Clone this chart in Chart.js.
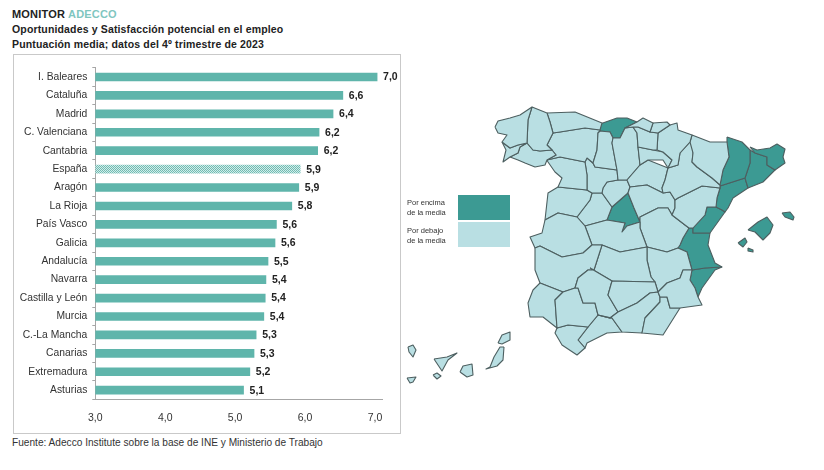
<!DOCTYPE html>
<html lang="es"><head><meta charset="utf-8">
<script src="https://cdn.jsdelivr.net/npm/chart.js@4/dist/chart.umd.min.js"></script>
<style>
html,body{margin:0;padding:0;background:#fff;width:824px;height:470px;overflow:hidden;font-family:"Liberation Sans",Arial,sans-serif}
.t{position:absolute;white-space:nowrap;color:#222}
.h{font-weight:bold;font-size:10.5px;letter-spacing:.15px;left:12px}
#frame{position:absolute;left:13px;top:54px;width:386px;height:378px;border:1px solid #c9c9c9}
#bars{position:absolute;left:14px;top:55px}
#map{position:absolute;left:400px;top:90px}
.sw{position:absolute;left:458px;width:52px;height:25px}
.lg{position:absolute;left:407px;font-size:7.5px;line-height:9.5px;color:#333;white-space:nowrap}
</style></head><body>
<div class="t" style="left:12px;top:8px;font-size:11px;font-weight:bold;letter-spacing:.2px">MONITOR <span style="color:#7fc6bf">ADECCO</span></div>
<div class="t h" style="top:23px">Oportunidades y Satisfacción potencial en el empleo</div>
<div class="t h" style="top:37.5px">Puntuación media; datos del 4º trimestre de 2023</div>
<div id="frame"></div>
<canvas id="bars" width="386" height="378"></canvas>
<canvas id="map" width="424" height="310"></canvas>
<div class="sw" style="top:195px;background:#3c9a93"></div>
<div class="sw" style="top:222px;background:#b9dfe3"></div>
<div class="lg" style="top:198px">Por encima<br>de la media</div>
<div class="lg" style="top:226px">Por debajo<br>de la media</div>
<div class="t" style="left:12px;top:437px;font-size:10.15px;color:#333">Fuente: Adecco Institute sobre la base de INE y Ministerio de Trabajo</div>
<script>
const regions=["I. Baleares","Cataluña","Madrid","C. Valenciana","Cantabria","España","Aragón","La Rioja","País Vasco","Galicia","Andalucía","Navarra","Castilla y León","Murcia","C.-La Mancha","Canarias","Extremadura","Asturias"];
const scores=[7.03,6.54,6.40,6.20,6.18,5.93,5.91,5.81,5.59,5.57,5.47,5.44,5.43,5.41,5.30,5.27,5.21,5.12];
const scoreLabels=["7,0","6,6","6,4","6,2","6,2","5,9","5,9","5,8","5,6","5,6","5,5","5,4","5,4","5,4","5,3","5,3","5,2","5,1"];
const xTicks=["3,0","4,0","5,0","6,0","7,0"];

// Province and island outlines
const aCoruna=[[495,127],[498,121],[510,118],[520,115],[532,107],[528,120],[527,143],[518,145],[510,148],[502,142],[507,135],[498,133]];
const lugo=[[532,107],[547,113],[550,122],[553,133],[547,145],[552,150],[540,151],[533,150],[527,143],[528,120]];
const pontevedra=[[502,142],[510,148],[518,145],[527,143],[520,147],[518,153],[510,157],[503,162],[506,150]];
const ourense=[[527,143],[533,150],[540,151],[552,150],[556,155],[547,160],[545,165],[535,167],[525,163],[518,160],[510,157],[518,153],[520,147]];
const asturias=[[547,113],[575,112],[602,123],[600,130],[585,128],[560,132],[553,133],[550,122]];
const cantabria=[[600,124],[617,118],[627,118],[637,122],[625,128],[620,138],[613,138],[610,132],[600,131]];
const leon=[[553,133],[560,132],[585,128],[600,130],[600,131],[598,133],[597,150],[593,163],[587,158],[585,162],[560,157],[547,160],[556,155],[552,150],[547,145]];
const palencia=[[600,131],[610,132],[613,138],[612,143],[617,170],[595,167],[593,163],[597,150],[598,133]];
const burgos=[[613,138],[620,138],[625,128],[633,127],[637,133],[638,147],[640,165],[627,180],[618,180],[617,170],[612,143]];
const zamora=[[547,160],[560,157],[585,162],[587,175],[587,190],[558,187],[562,178],[555,172],[548,162]];
const valladolid=[[585,162],[587,158],[593,163],[595,167],[617,170],[618,180],[607,182],[603,188],[602,193],[592,193],[587,190],[587,175]];
const segovia=[[603,188],[607,182],[618,180],[627,180],[630,187],[628,193],[612,207],[602,193]];
const salamanca=[[558,187],[587,190],[592,193],[590,200],[577,217],[558,213],[545,220],[548,193]];
const avila=[[592,193],[602,193],[612,207],[607,220],[585,226],[577,217],[590,200]];
const madrid=[[628,193],[634,208],[640,222],[627,226],[622,232],[625,223],[607,220],[612,207]];
const toledo=[[585,226],[607,220],[625,223],[622,232],[627,226],[640,222],[640,228],[647,247],[620,252],[602,245],[592,245]];
const caceres=[[545,220],[558,213],[577,217],[585,226],[592,245],[583,253],[562,257],[540,246],[535,248],[530,237],[542,233]];
const badajoz=[[540,246],[562,257],[583,253],[592,245],[602,245],[594,270],[588,270],[578,278],[575,288],[563,292],[540,283],[535,270],[535,248]];
const ciudadReal=[[602,245],[620,252],[647,247],[647,260],[651,277],[655,282],[612,281],[590,268],[594,270]];
const albacete=[[647,247],[667,252],[678,248],[687,252],[692,270],[683,270],[680,278],[667,283],[658,292],[655,282],[651,277],[647,260]];
const cuenca=[[640,222],[640,217],[658,208],[668,208],[672,215],[685,225],[689,228],[683,238],[680,245],[678,248],[667,252],[647,247],[640,228]];
const guadalajara=[[630,187],[647,185],[663,193],[670,192],[675,200],[675,208],[672,215],[668,208],[658,208],[640,217],[640,222],[634,208],[628,193]];
const soria=[[627,180],[640,165],[648,160],[668,168],[665,180],[662,188],[663,193],[647,185],[630,187]];
const rioja=[[638,147],[653,150],[663,152],[672,160],[668,168],[663,160],[648,160],[640,165]];
const vizcaya=[[637,122],[643,118],[653,123],[650,132],[638,127],[633,127],[625,128]];
const gipuzkoa=[[653,123],[667,122],[670,125],[658,133],[650,132]];
const alava=[[633,127],[638,127],[650,132],[658,133],[657,150],[653,150],[638,147],[637,133]];
const navarra=[[670,125],[677,123],[678,130],[692,135],[690,142],[680,153],[678,165],[668,168],[672,160],[663,152],[657,150],[658,133]];
const huesca=[[692,135],[710,142],[727,142],[729,157],[723,170],[720,185],[712,178],[697,167],[692,162],[693,153],[690,142]];
const zaragoza=[[692,135],[693,153],[692,162],[697,167],[712,178],[720,185],[720,188],[702,186],[678,198],[675,200],[670,192],[663,193],[662,188],[665,180],[668,168],[678,165],[680,153],[690,142]];
const teruel=[[675,200],[678,198],[702,186],[720,188],[717,198],[716,207],[707,207],[705,215],[693,228],[689,228],[685,225],[672,215],[675,208]];
const lleida=[[727,137],[742,142],[750,150],[750,163],[745,178],[720,186],[720,185],[723,170],[729,157],[727,142]];
const girona=[[750,147],[757,150],[770,148],[777,144],[785,149],[783,157],[785,163],[775,170],[767,165],[767,157],[755,153]];
const barcelona=[[755,153],[767,157],[767,165],[775,170],[763,182],[748,188],[745,178],[750,163],[750,150]];
const tarragona=[[745,178],[748,188],[733,198],[728,208],[725,212],[722,210],[716,207],[717,198],[720,188],[720,186]];
const castellon=[[707,207],[716,207],[722,210],[725,212],[710,233],[693,233],[693,228],[705,215]];
const valencia=[[693,233],[710,233],[708,245],[715,263],[722,267],[705,268],[692,270],[687,252],[678,248],[680,245],[683,238],[689,228],[693,228]];
const alicante=[[722,267],[715,270],[702,288],[698,297],[695,288],[690,280],[692,270],[705,268]];
const murcia=[[692,270],[690,280],[695,288],[698,297],[702,305],[680,308],[670,308],[667,297],[660,297],[658,292],[667,283],[680,278],[683,270]];
const almeria=[[660,297],[667,297],[670,308],[680,308],[663,335],[642,333],[645,318],[660,302]];
const granada=[[598,315],[610,318],[618,312],[637,303],[650,293],[658,292],[660,297],[660,302],[645,318],[642,333],[622,332],[612,318]];
const jaen=[[612,281],[655,282],[658,292],[650,293],[637,303],[618,312],[608,295]];
const cordoba=[[590,268],[612,281],[608,295],[618,312],[610,318],[598,315],[595,303],[583,303],[578,288],[575,288],[578,278],[588,270],[594,270]];
const sevilla=[[575,288],[578,288],[583,303],[595,303],[598,315],[588,327],[568,325],[557,328],[555,300],[563,292]];
const huelva=[[540,283],[563,292],[555,300],[557,328],[543,317],[530,317],[528,303],[533,290]];
const cadiz=[[557,328],[568,325],[588,327],[578,340],[585,348],[577,355],[562,345],[555,333]];
const malaga=[[588,327],[598,315],[610,318],[612,318],[622,332],[607,333],[587,343],[585,348],[578,340]];
const mallorca=[[748,230],[758,222],[767,217],[773,225],[770,233],[763,240],[755,232]];
const menorca=[[782,213],[790,212],[794,217],[793,220],[785,217]];
const ibiza=[[738,243],[745,238],[747,242],[743,247]];
const formentera=[[748,248],[753,250],[753,252],[748,251]];
const lanzarote=[[498,343],[502,335],[510,332],[510,340],[502,344]];
const fuerteventura=[[504,347],[503,360],[497,366],[486,369],[490,367],[494,357],[500,347]];
const granCanaria=[[460,372],[463,366],[472,364],[473,375],[467,377]];
const tenerife=[[434,359],[447,357],[457,353],[448,360],[442,371]];
const gomera=[[433,375],[437,373],[441,376],[437,379]];
const laPalma=[[408,347],[413,345],[416,350],[413,357],[409,352]];
const hierro=[[407,378],[416,377],[413,382],[410,383]];

const belowAverage=[aCoruna,lugo,pontevedra,ourense,asturias,vizcaya,gipuzkoa,alava,navarra,rioja,huesca,zaragoza,teruel,murcia,almeria,granada,jaen,cordoba,sevilla,huelva,cadiz,malaga,badajoz,caceres,ciudadReal,albacete,toledo,cuenca,guadalajara,soria,burgos,palencia,leon,zamora,valladolid,segovia,salamanca,avila,lanzarote,fuerteventura,granCanaria,tenerife,gomera,laPalma,hierro];
const aboveAverage=[cantabria,lleida,girona,barcelona,tarragona,castellon,valencia,alicante,madrid,mallorca,menorca,ibiza,formentera];

const BAR="#5fb5ab",DARK="#3c9a93",LIGHT="#b9dfe3",EDGE="#4d5f60",AXIS="#a6a6a6",TXT="#333";

function hatch(){
  const c=document.createElement("canvas");c.width=c.height=2;
  const g=c.getContext("2d");g.fillStyle="#d3ece9";g.fillRect(0,0,2,2);
  g.fillStyle="#6fbcb3";g.fillRect(0,1,1,1);g.fillRect(1,0,1,1);
  return g.createPattern(c,"repeat");
}
const endLabels={id:"endLabels",afterDatasetsDraw(ch){
  const c=ch.ctx,m=ch.getDatasetMeta(0);
  c.save();c.font='bold 10.5px "Liberation Sans",Arial,sans-serif';c.fillStyle="#222";c.textBaseline="middle";c.textAlign="left";
  m.data.forEach((b,i)=>c.fillText(scoreLabels[i],b.x+6,b.y+0.5));
  c.restore();
}};
new Chart(document.getElementById("bars"),{
  type:"bar",
  data:{labels:regions,datasets:[{data:scores,barThickness:8,borderWidth:0,
    backgroundColor:regions.map(r=>r==="España"?hatch():BAR)}]},
  options:{indexAxis:"y",responsive:false,animation:false,
    layout:{padding:{left:0,right:18,top:12.8,bottom:0}},
    plugins:{legend:{display:false},tooltip:{enabled:false}},
    scales:{
      x:{min:3,max:7.1,grid:{display:false,drawTicks:true},border:{color:AXIS},
        afterFit(s){s.height=33.6},
        ticks:{stepSize:1,includeBounds:false,maxRotation:0,color:TXT,padding:4,font:{size:10.5,family:'"Liberation Sans"'},
          callback:v=>xTicks[Math.round(v)-3]}},
      y:{grid:{display:true,drawOnChartArea:false,tickLength:3,color:AXIS},border:{color:AXIS},
        afterFit(s){s.width=81.3},
        ticks:{color:TXT,padding:5,autoSkip:false,font:{size:10.3,family:'"Liberation Sans"'}}}
    }},
  plugins:[endLabels]
});

const poly=(pts,color)=>({data:pts.concat([pts[0]]).map(p=>({x:p[0],y:p[1]})),showLine:true,fill:"shape",tension:0,
  backgroundColor:color,borderColor:EDGE,borderWidth:1.1,pointRadius:0,borderJoinStyle:"round"});
new Chart(document.getElementById("map"),{
  type:"scatter",
  data:{datasets:belowAverage.map(p=>poly(p,LIGHT)).concat(aboveAverage.map(p=>poly(p,DARK)))},
  options:{responsive:false,animation:false,layout:{padding:0},
    plugins:{legend:{display:false},tooltip:{enabled:false}},
    scales:{x:{type:"linear",display:false,min:400,max:824},y:{type:"linear",display:false,min:90,max:400,reverse:true}}}
});
</script>
</body></html>
